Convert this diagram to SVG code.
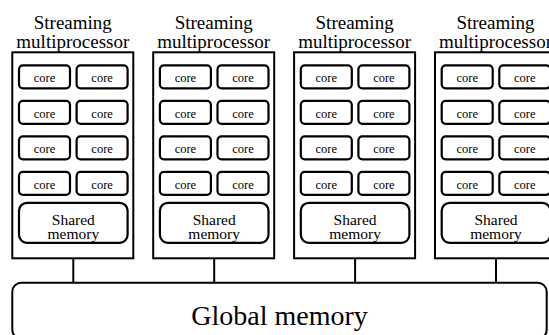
<svg xmlns="http://www.w3.org/2000/svg" width="549" height="335" viewBox="0 0 549 335" font-family="'Liberation Serif', serif">
<style>
text{font-family:"Liberation Serif",serif;fill:#000;text-anchor:middle}
.t{font-size:19px}
.c{font-size:12.5px}
.s{font-size:15.5px}
.g{font-size:28px}
.sm{fill:#fff;stroke:#000;stroke-width:2}
.core{fill:#fff;stroke:#000;stroke-width:2.2}
.ln{stroke:#000;stroke-width:2;fill:none}
</style>
<defs>
<g id="smbody">
<rect class="sm" x="0" y="52.3" width="121" height="206"/>
<rect class="core" x="6.7" y="65.3" width="51" height="23" rx="4"/>
<rect class="core" x="64.3" y="65.3" width="51" height="23" rx="4"/>
<rect class="core" x="6.7" y="100.8" width="51" height="23" rx="4"/>
<rect class="core" x="64.3" y="100.8" width="51" height="23" rx="4"/>
<rect class="core" x="6.7" y="136.3" width="51" height="23" rx="4"/>
<rect class="core" x="64.3" y="136.3" width="51" height="23" rx="4"/>
<rect class="core" x="6.7" y="171.8" width="51" height="23" rx="4"/>
<rect class="core" x="64.3" y="171.8" width="51" height="23" rx="4"/>
<rect class="core" x="6.7" y="202.8" width="108.6" height="40" rx="8"/>
<text class="t" x="60.5" y="29.3">Streaming</text>
<text class="t" x="60.5" y="47.7">multiprocessor</text>
<text class="c" x="32.2" y="82">core</text>
<text class="c" x="89.8" y="82">core</text>
<text class="c" x="32.2" y="117.5">core</text>
<text class="c" x="89.8" y="117.5">core</text>
<text class="c" x="32.2" y="153">core</text>
<text class="c" x="89.8" y="153">core</text>
<text class="c" x="32.2" y="188.5">core</text>
<text class="c" x="89.8" y="188.5">core</text>
<text class="s" x="61" y="224.5">Shared</text>
<text class="s" x="61" y="239">memory</text>
</g>
</defs>
<g id="connectors">
<line class="ln" x1="73.3" y1="258.3" x2="73.3" y2="283"/>
<line class="ln" x1="214.2" y1="258.3" x2="214.2" y2="283"/>
<line class="ln" x1="355.1" y1="258.3" x2="355.1" y2="283"/>
<line class="ln" x1="496" y1="258.3" x2="496" y2="283"/>
</g>
<g id="sm1"><use href="#smbody" x="12.3"/></g>
<g id="sm2"><use href="#smbody" x="153.2"/></g>
<g id="sm3"><use href="#smbody" x="294.1"/></g>
<g id="sm4"><use href="#smbody" x="435"/></g>
<g id="global">
<rect class="sm" x="12.3" y="282.7" width="534.4" height="56" rx="9"/>
<text class="g" x="279.5" y="325.3">Global memory</text>
</g>
</svg>
